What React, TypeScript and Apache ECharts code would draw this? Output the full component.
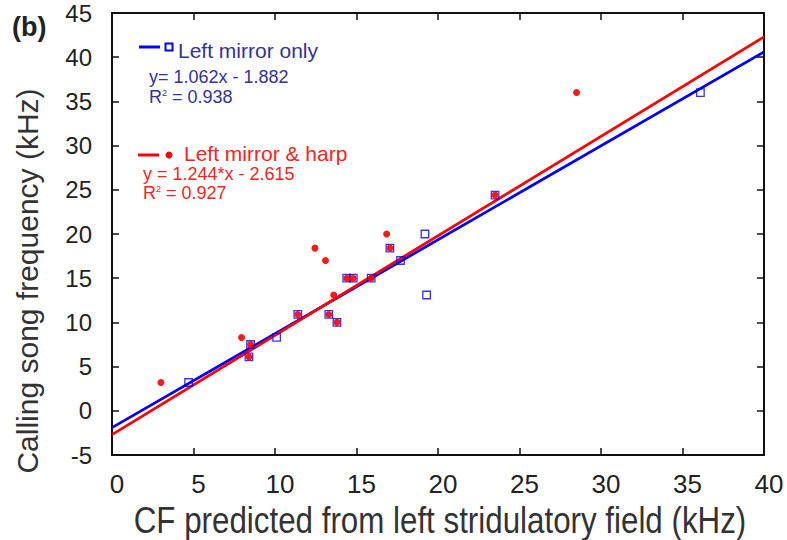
import React, { useEffect, useRef } from "react";
import * as echarts from "echarts";

// Axis ranges / ticks
const xMin = 0;
const xMax = 40;
const xStep = 5;
const yMin = -5;
const yMax = 45;
const yStep = 5;

// Left mirror only (blue squares)
const mirrorOnlyX = [4.7, 8.4, 8.5, 10.1, 11.4, 13.3, 13.8, 14.4, 14.8, 15.9, 17.05, 17.7, 19.2, 19.3, 23.5, 36.1];
const mirrorOnlyY = [3.2, 6.1, 7.5, 8.3, 10.9, 10.9, 10.0, 15.0, 15.0, 15.0, 18.4, 17.0, 20.0, 13.1, 24.4, 36.0];

// Left mirror & harp (red circles)
const mirrorHarpX = [3.0, 7.95, 8.4, 8.5, 11.4, 12.45, 13.1, 13.3, 13.6, 13.8, 14.4, 14.8, 15.9, 16.85, 17.05, 23.5, 28.5];
const mirrorHarpY = [3.2, 8.3, 6.1, 7.5, 10.9, 18.4, 17.0, 10.9, 13.1, 10.0, 15.0, 15.0, 15.0, 20.0, 18.4, 24.4, 36.0];

// Fitted lines as drawn
const fitX = [0, 40];
const fitOnlyY = [-1.9, 40.6];
const fitHarpY = [-2.7, 42.3];

const FONT = "'Liberation Sans', Arial, Helvetica, sans-serif";
const BLUE = "#0000ff";
const RED = "#ff0000";
const BLUE_TEXT = "#333399";
const RED_TEXT = "#ff2222";

const zip = (xs: number[], ys: number[]) => xs.map((x, i) => [x, ys[i]]);

export default function App() {
  const ref = useRef<HTMLDivElement>(null);

  useEffect(() => {
    if (!ref.current) return;
    const chart = echarts.init(ref.current, null, { renderer: "svg" });

    const axisCommon = {
      type: "value" as const,
      splitLine: { show: false },
      axisLine: { show: true, onZero: false, lineStyle: { color: "#111", width: 2 } },
      axisTick: { show: true, inside: true, length: 7, lineStyle: { color: "#111", width: 1.5 } },
    };

    const txt = (text: string, x: number, y: number, size: number, color: string, extra: any = {}) => ({
      type: "text",
      x,
      y,
      z: 100,
      style: {
        text,
        fontSize: size,
        fill: color,
        fontFamily: FONT,
        align: "left",
        verticalAlign: "middle",
        ...extra,
      },
    });

    chart.setOption({
      animation: false,
      backgroundColor: "#fff",
      grid: { left: 112, top: 13, right: 23, bottom: 85, containLabel: false },
      xAxis: [
        {
          ...axisCommon,
          position: "bottom",
          min: xMin,
          max: xMax,
          interval: xStep,
          axisLabel: {
            show: true,
            margin: 16,
            fontSize: 26,
            color: "#222",
            fontFamily: FONT,
            padding: [0, 0, 0, 10],
          },
        },
        {
          ...axisCommon,
          position: "top",
          min: xMin,
          max: xMax,
          interval: xStep,
          axisLabel: { show: false },
        },
      ],
      yAxis: [
        {
          ...axisCommon,
          position: "left",
          min: yMin,
          max: yMax,
          interval: yStep,
          axisLabel: {
            show: true,
            margin: 20,
            fontSize: 24,
            color: "#222",
            fontFamily: FONT,
            padding: [15, 0, 0, 0],
          },
        },
        {
          ...axisCommon,
          position: "right",
          min: yMin,
          max: yMax,
          interval: yStep,
          axisLabel: { show: false },
        },
      ],
      series: [
        {
          type: "line",
          data: zip(fitX, fitOnlyY),
          symbol: "none",
          lineStyle: { color: BLUE, width: 2.8 },
          z: 1,
        },
        {
          type: "line",
          data: zip(fitX, fitHarpY),
          symbol: "none",
          lineStyle: { color: RED, width: 2.8 },
          z: 2,
        },
        {
          type: "scatter",
          name: "Left mirror only",
          data: zip(mirrorOnlyX, mirrorOnlyY),
          symbol: "rect",
          symbolSize: 7.5,
          itemStyle: { color: "rgba(255,255,255,0)", borderColor: BLUE, borderWidth: 1.3 },
          z: 3,
        },
        {
          type: "scatter",
          name: "Left mirror & harp",
          data: zip(mirrorHarpX, mirrorHarpY),
          symbol: "circle",
          symbolSize: 7,
          itemStyle: { color: RED, opacity: 0.9 },
          z: 4,
        },
      ],
      graphic: [
        txt("(b)", 12, 27, 27, "#222", { fontWeight: "bold" }),
        {
          type: "text",
          x: 27,
          y: 281,
          rotation: Math.PI / 2,
          style: {
            text: "Calling song frequency (kHz)",
            fontSize: 30,
            fill: "#333",
            fontFamily: FONT,
            align: "center",
            verticalAlign: "middle",
          },
        },
        {
          type: "text",
          x: 440,
          y: 520,
          scaleX: 0.87,
          style: {
            text: "CF predicted from left stridulatory field (kHz)",
            fontSize: 36,
            fill: "#333",
            fontFamily: FONT,
            align: "center",
            verticalAlign: "middle",
          },
        },
        // Legend: blue
        { type: "line", z: 100, shape: { x1: 139, y1: 47, x2: 160, y2: 47 }, style: { stroke: BLUE, lineWidth: 3 } },
        { type: "rect", z: 100, shape: { x: 165.5, y: 43.5, width: 7, height: 7 }, style: { fill: "#fff", stroke: BLUE, lineWidth: 2 } },
        txt("Left mirror only", 178, 50, 21, BLUE_TEXT),
        txt("y= 1.062x - 1.882", 149, 77, 18, BLUE_TEXT),
        txt("R{s|2} = 0.938", 149, 97, 18, BLUE_TEXT, {
          rich: { s: { fontSize: 9, fill: BLUE_TEXT, fontFamily: FONT, padding: [0, 0, 9, 0] } },
        }),
        // Legend: red
        { type: "line", z: 100, shape: { x1: 138, y1: 155, x2: 159, y2: 155 }, style: { stroke: RED, lineWidth: 3 } },
        { type: "circle", z: 100, shape: { cx: 169, cy: 155, r: 3.5 }, style: { fill: RED } },
        txt("Left mirror & harp", 184, 153, 21, RED_TEXT),
        txt("y = 1.244*x - 2.615", 143, 174, 18, RED_TEXT),
        txt("R{s|2} = 0.927", 143, 193, 18, RED_TEXT, {
          rich: { s: { fontSize: 9, fill: RED_TEXT, fontFamily: FONT, padding: [0, 0, 9, 0] } },
        }),
      ],
    });

    return () => chart.dispose();
  }, []);

  return (
    <div
      ref={ref}
      style={{ position: "fixed", left: 0, top: 0, width: 787, height: 540, background: "#fff" }}
    />
  );
}
